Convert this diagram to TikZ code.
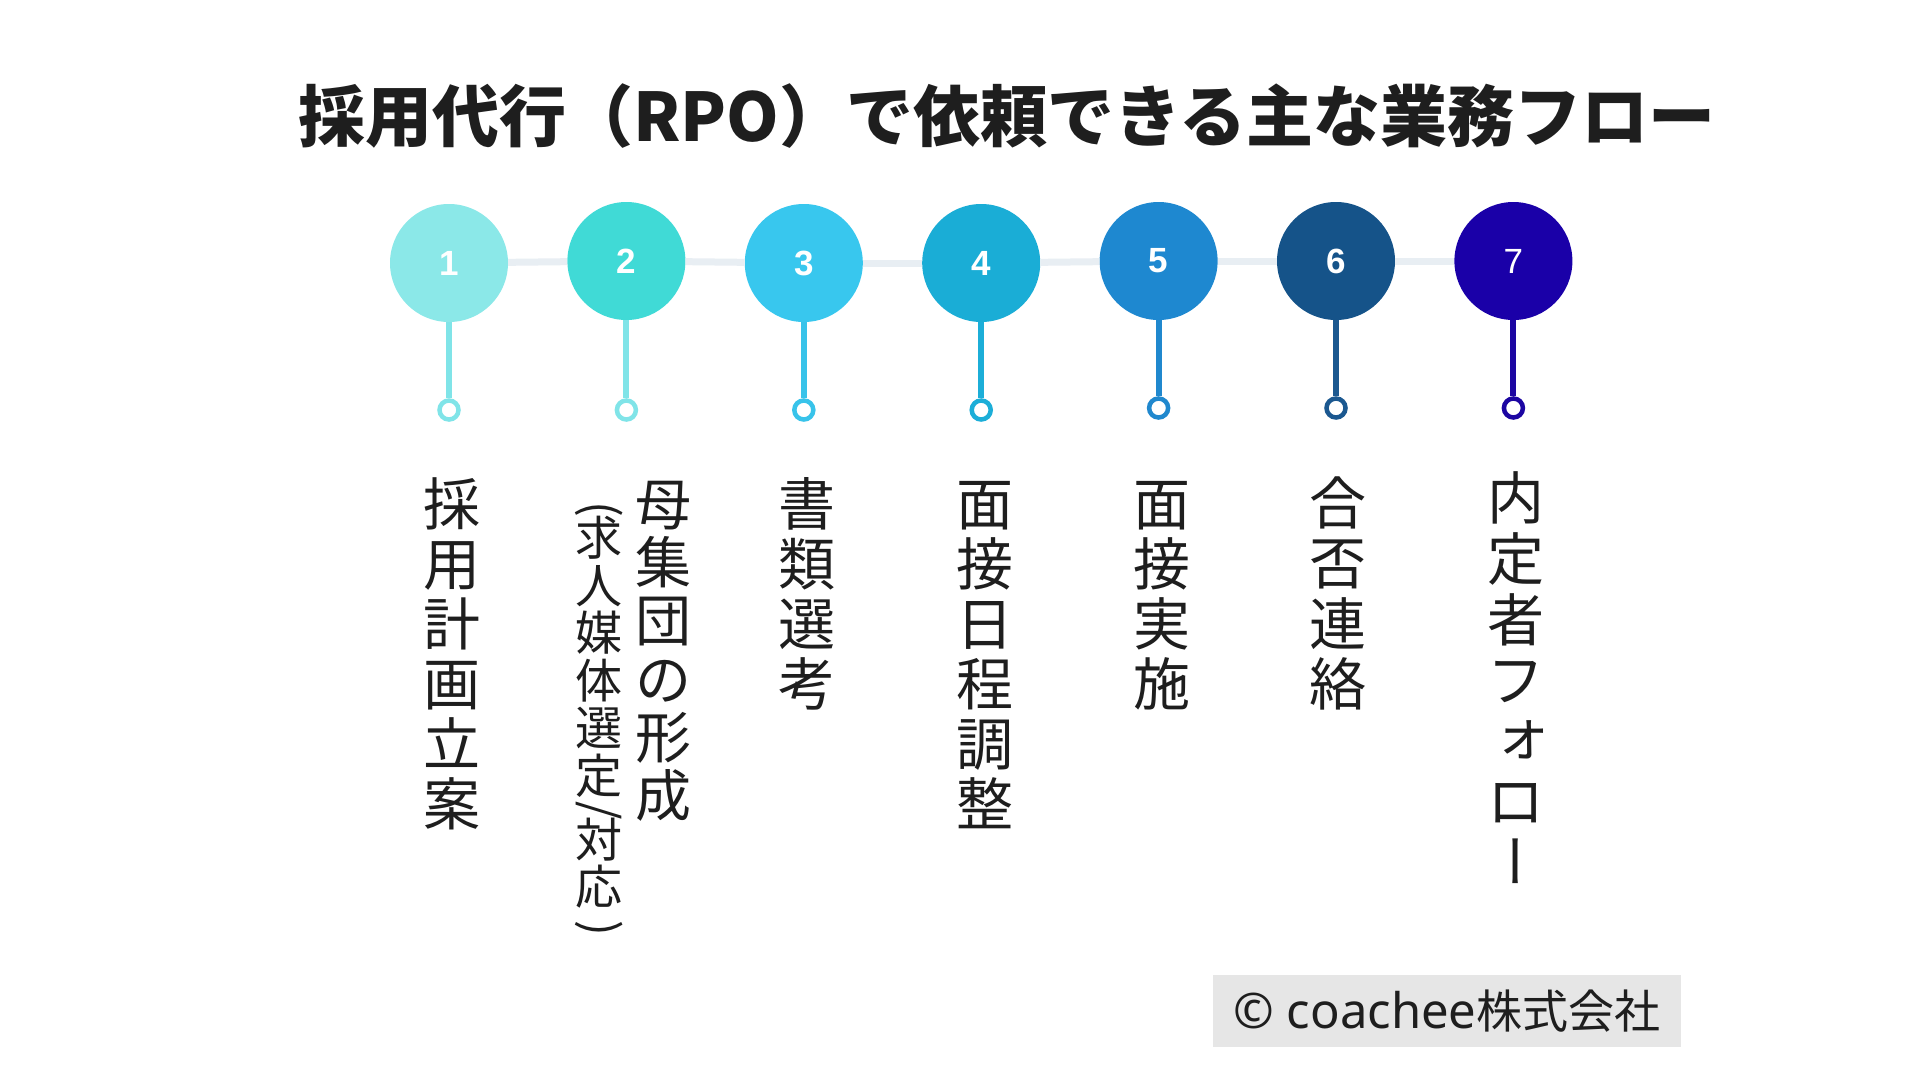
\documentclass[tikz,border=0pt]{standalone}
\usepackage{fontspec}
\usepackage{graphicx}
\setmainfont{Noto Sans CJK JP}
\newfontfamily\jp{Noto Sans CJK JP}
\newfontfamily\vjp{Noto Sans CJK JP}[RawFeature=+vert]
\newfontfamily\numf{Liberation Sans}
\newfontfamily\latf{Noto Sans}
\definecolor{col1}{HTML}{8BE8E8}
\definecolor{col2}{HTML}{40DAD6}
\definecolor{col3}{HTML}{38C7EE}
\definecolor{col4}{HTML}{1AADD6}
\definecolor{col5}{HTML}{1E88D0}
\definecolor{col6}{HTML}{155389}
\definecolor{col7}{HTML}{1A00A8}
\definecolor{stm1}{HTML}{80E4E8}
\definecolor{stm2}{HTML}{80E4E8}
\definecolor{stm3}{HTML}{38C3EA}
\definecolor{stm4}{HTML}{1CAED8}
\definecolor{stm5}{HTML}{2088CE}
\definecolor{stm6}{HTML}{1B5890}
\definecolor{stm7}{HTML}{1C06A2}
\definecolor{hl}{HTML}{E8EEF3}
\definecolor{cgray}{HTML}{E6E6E6}
\definecolor{ink}{HTML}{1E1E1E}
\newcommand\vs{\rule[-0.12em]{0pt}{1em}}
\newcommand\rot[1]{\rotatebox[origin=c]{-90}{#1}}
\newcommand\labfont[2]{\jp\fontsize{#1bp}{#2bp}\selectfont\lineskiplimit=-1000pt\relax}
\begin{document}
\begin{tikzpicture}[x=1bp,y=-1bp,
  stepc/.style={circle, minimum size=118bp, inner sep=0pt, text=white,
    font=\numf\bfseries\fontsize{35bp}{35bp}\selectfont},
  ringc/.style={circle, draw=#1, line width=4.5bp, minimum size=19bp, inner sep=0pt, fill=white},
  stem/.style={line width=6bp},
  hline/.style={line width=7bp, draw=hl},
  vlab/.style={anchor=north, inner sep=0pt, align=center, text=ink},
  titlefont/.style={font=\jp\bfseries\fontsize{67bp}{67bp}\selectfont, text=ink, inner sep=0pt}
]
\useasboundingbox (0,0) rectangle (1920,1080);
\fill[white] (0,0) rectangle (1920,1080);

% title
\node[titlefont] (title) at (1007,116) {採用代行（RPO）で依頼できる主な業務フロー};

% step circles
\node[stepc, fill=col1] (c1) at (449,263) {1};
\node[stepc, fill=col2] (c2) at (626.4,261) {2};
\node[stepc, fill=col3] (c3) at (803.8,263) {3};
\node[stepc, fill=col4] (c4) at (981.2,263) {4};
\node[stepc, fill=col5] (c5) at (1158.6,261) {5};
\node[stepc, fill=col6] (c6) at (1336,261) {6};
\node[stepc, fill=col7, font=\numf\fontsize{35bp}{35bp}\selectfont] (c7) at (1513.4,261) {7};

% connecting line
\draw[hline] (c1) -- (c2);
\draw[hline] (c2) -- (c3);
\draw[hline] (c3) -- (c4);
\draw[hline] (c4) -- (c5);
\draw[hline] (c5) -- (c6);
\draw[hline] (c6) -- (c7);

% rings
\node[ringc=stm1] (r1) at (449,410) {};
\node[ringc=stm2] (r2) at (626.4,410) {};
\node[ringc=stm3] (r3) at (803.8,410) {};
\node[ringc=stm4] (r4) at (981.2,410) {};
\node[ringc=stm5] (r5) at (1158.6,408) {};
\node[ringc=stm6] (r6) at (1336,408) {};
\node[ringc=stm7] (r7) at (1513.4,408) {};

% stems
\draw[stem, draw=stm1] (c1) -- (r1);
\draw[stem, draw=stm2] (c2) -- (r2);
\draw[stem, draw=stm3] (c3) -- (r3);
\draw[stem, draw=stm4] (c4) -- (r4);
\draw[stem, draw=stm5] (c5) -- (r5);
\draw[stem, draw=stm6] (c6) -- (r6);
\draw[stem, draw=stm7] (c7) -- (r7);

% vertical labels
\node[vlab, font=\labfont{57}{60}] (l1) at (451.7,475.5) {\vs{}採\\用\\計\\画\\立\\案};
\node[vlab, font=\labfont{56}{58.2}] (l2) at (663,476) {\vs{}母\\集\\団\\の\\形\\成};
\node[vlab, font=\labfont{47}{47.6}] (l2b) at (599,482) {\vs{}\rot{(}\\[-15.6bp]求\\人\\媒\\体\\選\\定\\[-16bp]\rot{/}\\[-15.6bp]対\\応\\[-9bp]\rot{)}};
\node[vlab, font=\labfont{57}{60}] (l3) at (807,475.5) {\vs{}書\\類\\選\\考};
\node[vlab, font=\labfont{57}{60}] (l4) at (984.7,475.5) {\vs{}面\\接\\日\\程\\調\\整};
\node[vlab, font=\labfont{57}{60}] (l5) at (1162,475.5) {\vs{}面\\接\\実\\施};
\node[vlab, font=\labfont{57}{60.5}] (l6) at (1337.8,474) {\vs{}合\\否\\連\\絡};
\node[vlab, font=\labfont{57}{60.6}] (l7) at (1516,469.5) {\vs{}内\\定\\者\\フ\\\raisebox{0.12em}{\hspace*{0.24em}ォ}\\ロ\\{\vjp ー}};

% copyright
\node[fill=cgray, minimum width=468bp, minimum height=72bp, inner sep=0pt, text=ink,
  font=\jp\fontsize{46bp}{46bp}\selectfont] (copy) at (1447,1011) {{\latf\fontsize{49bp}{49bp}\selectfont © coachee}株式会社};
\end{tikzpicture}
\end{document}
